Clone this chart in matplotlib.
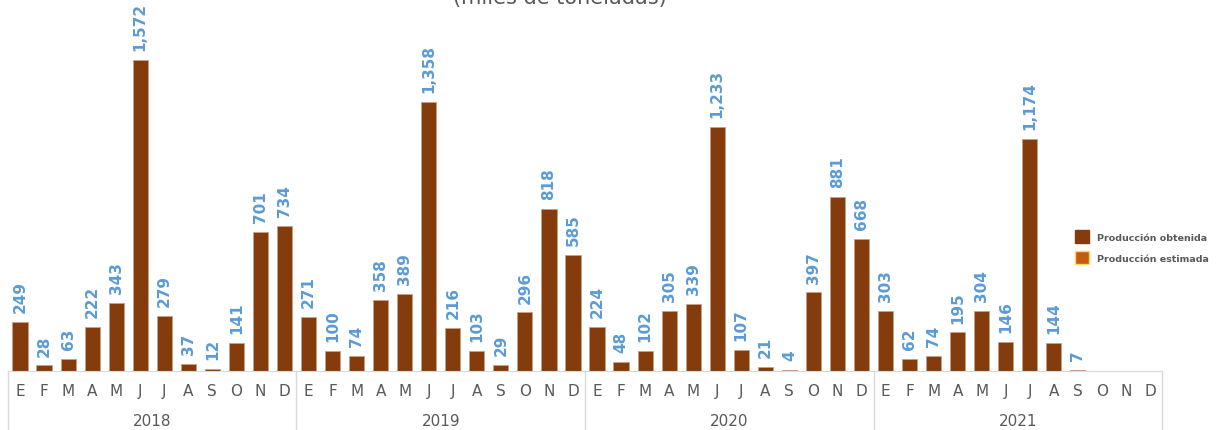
import matplotlib.pyplot as plt
from matplotlib.patches import Patch
import numpy as np

# Producción mensual (miles de toneladas)
years = ['2018', '2019', '2020', '2021']
months = ['E', 'F', 'M', 'A', 'M', 'J', 'J', 'A', 'S', 'O', 'N', 'D']
prod_2018 = [249, 28, 63, 222, 343, 1572, 279, 37, 12, 141, 701, 734]
prod_2019 = [271, 100, 74, 358, 389, 1358, 216, 103, 29, 296, 818, 585]
prod_2020 = [224, 48, 102, 305, 339, 1233, 107, 21, 4, 397, 881, 668]
prod_2021 = [303, 62, 74, 195, 304, 146, 1174, 144, 7, None, None, None]

bar_color = '#843C0C'
est_color = '#C55A11'
lbl_color = '#5B9BD5'
txt_color = '#595959'
grid_color = '#D9D9D9'

values = prod_2018 + prod_2019 + prod_2020 + prod_2021
x = np.arange(len(values))

fig = plt.figure(figsize=(12.18, 4.31), dpi=100)
ax = fig.add_axes([8 / 1218, 59 / 431, 1154 / 1218, 372 / 431])

for xi, v in zip(x, values):
    if v is None:
        continue
    ax.bar(xi, v, width=0.63, color=bar_color, edgecolor='#C8A088', linewidth=0.6)
    ax.text(xi, v + 50, f'{v:,}', rotation=90, ha='center', va='bottom',
            color=lbl_color, fontsize=11, fontweight='bold')

ax.set_xlim(-0.5, len(values) - 0.5)
ax.set_ylim(0, 1880)
ax.set_yticks([])
ax.set_xticks(x)
ax.set_xticklabels(months * len(years), color=txt_color, fontsize=11)
ax.tick_params(axis='x', length=0, pad=9)
for s in ['top', 'right', 'left']:
    ax.spines[s].set_visible(False)
ax.spines['bottom'].set_color(grid_color)

# separadores y etiquetas de año
trans = ax.get_xaxis_transform()
for i in range(len(years) + 1):
    ax.plot([i * 12 - 0.5] * 2, [0, -59 / 372], transform=trans,
            color=grid_color, lw=1, clip_on=False)
for i, yr in enumerate(years):
    ax.text(i * 12 + 5.5, -50 / 372, yr, transform=trans, ha='center',
            va='center', color=txt_color, fontsize=11)

fig.text(560 / 1218, 1 - 4 / 431, '(miles de toneladas)', ha='center',
         va='baseline', color=txt_color, fontsize=15)

handles = [Patch(facecolor=bar_color, edgecolor=bar_color),
           Patch(facecolor=est_color, edgecolor='#FFD966', linewidth=1)]
fig.legend(handles, ['Producción obtenida', 'Producción estimada'],
           loc='center left', bbox_to_anchor=(1066 / 1218, 1 - 248 / 431),
           frameon=False, prop={'size': 6.8, 'weight': 'bold'},
           labelcolor=txt_color, handlelength=1.5, handleheight=1.8,
           handletextpad=0.9, labelspacing=0.8)

fig.savefig('out.png', dpi=100)
